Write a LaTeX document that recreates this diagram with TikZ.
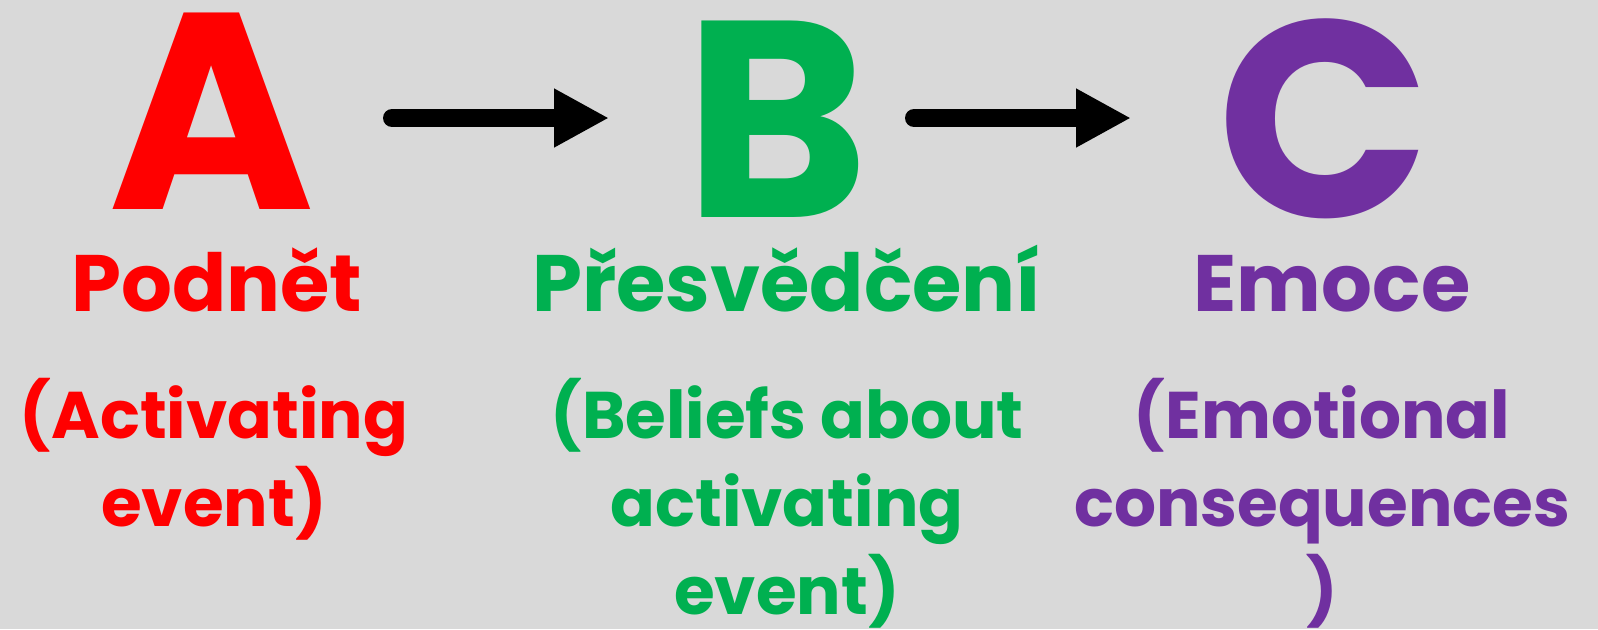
\documentclass[tikz,border=0pt]{standalone}
\usepackage{fontspec}
\setmainfont{Poppins}
\usetikzlibrary{arrows.meta}
\definecolor{bgc}{HTML}{D9D9D9}
\definecolor{cred}{HTML}{FF0000}
\definecolor{cgreen}{HTML}{00B050}
\definecolor{cpurple}{HTML}{7030A0}
\begin{document}
\begin{tikzpicture}[x=0.5pt,y=-0.5pt,
  big/.style={anchor=base,inner sep=0pt,font=\fontsize{140}{140}\selectfont\bfseries},
  title/.style={anchor=base,inner sep=0pt,font=\fontsize{40}{40}\selectfont\bfseries},
  sub/.style={anchor=base,inner sep=0pt,font=\fontsize{33}{33}\selectfont\bfseries},
  arr/.style={line width=9pt,line cap=round,-{Triangle[length=27.5pt,width=27.5pt]}}]
\fill[bgc] (0,0) rectangle (1598,629);
\useasboundingbox (0,0) rectangle (1598,629);
% big letters
\node[big,text=cred] (A) at (212,209) {A};
\node[big,text=cgreen] (B) at (777,217) {B};
\node[big,text=cpurple] (C) at (1324,217) {C};
% arrows
\coordinate (ab1) at (392,118);
\coordinate (ab2) at (609,118);
\coordinate (bc1) at (914,118);
\coordinate (bc2) at (1131,118);
\draw[arr] (ab1) -- (ab2);
\draw[arr] (bc1) -- (bc2);
% titles
\node[title,text=cred] (tA) at (217,311) {Podnět};
\node[title,text=cgreen] (tB) at (787,311) {Přesvědčení};
\node[title,text=cpurple] (tC) at (1332,311) {Emoce};
% subtitles
\node[sub,text=cred] (sA1) at (214,438) {(Activating};
\node[sub,text=cred] (sA2) at (214,526) {event)};
\node[sub,text=cgreen] (sB1) at (787,438) {(Beliefs about};
\node[sub,text=cgreen] (sB2) at (787,526) {activating};
\node[sub,text=cgreen] (sB3) at (787,614) {event)};
\node[sub,text=cpurple] (sC1) at (1322,438) {(Emotional};
\node[sub,text=cpurple] (sC2) at (1322,526) {consequences};
\node[sub,text=cpurple] (sC3) at (1322,614) {)};
\end{tikzpicture}
\end{document}
